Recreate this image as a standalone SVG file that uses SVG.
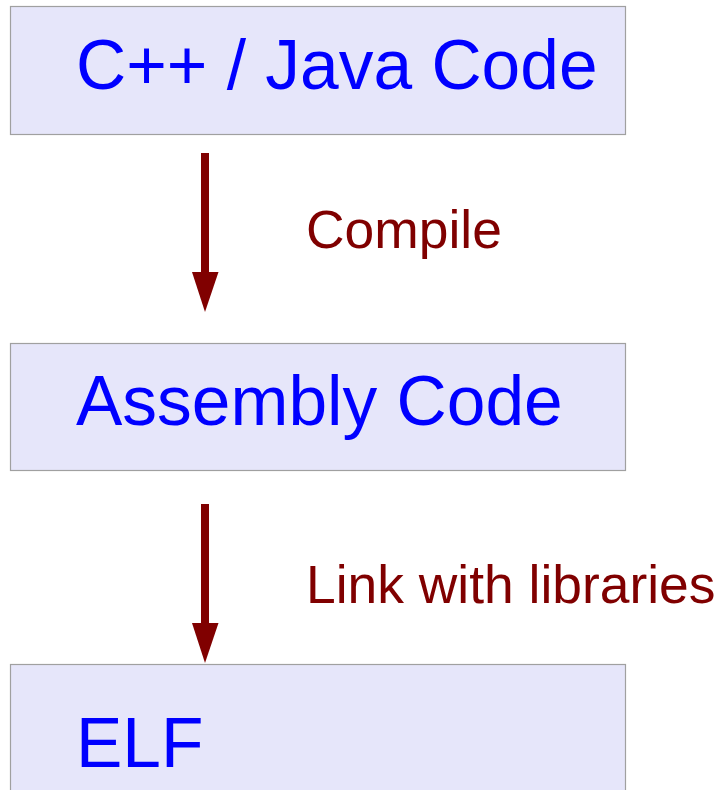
<svg xmlns="http://www.w3.org/2000/svg" width="718" height="790" viewBox="0 0 718 790">
<style>
.box{fill:#e6e6fa;stroke:#a0a0a0;stroke-width:1.2}
.lbl{font-family:"Liberation Sans",Arial,sans-serif;font-size:69.5px;fill:#0000ff}
.edge{font-family:"Liberation Sans",Arial,sans-serif;font-size:53.4px;fill:#800000}
.shaft{stroke:#800000;stroke-width:8;fill:none}
.head{fill:#800000}
</style>
<rect width="718" height="790" fill="#ffffff"/>
<g id="node-source">
<rect class="box" x="10.5" y="6.5" width="615" height="128"/>
<text class="lbl" x="76" y="88.5">C++ / Java Code</text>
</g>
<g id="node-assembly">
<rect class="box" x="10.5" y="343.5" width="615" height="127"/>
<text class="lbl" x="76" y="424.5">Assembly Code</text>
</g>
<g id="node-elf">
<rect class="box" x="10.5" y="664.5" width="615" height="140"/>
<text class="lbl" x="76" y="767">ELF</text>
</g>
<g id="connectors">
<line class="shaft" x1="205" y1="153" x2="205" y2="273"/>
<polygon class="head" points="192,272 218.5,272 205,312"/>
<text class="edge" x="306" y="247.5">Compile</text>
<line class="shaft" x1="205" y1="504" x2="205" y2="624"/>
<polygon class="head" points="192,623 218.5,623 205,663"/>
<text class="edge" x="306" y="602.5">Link with libraries</text>
</g>
</svg>
